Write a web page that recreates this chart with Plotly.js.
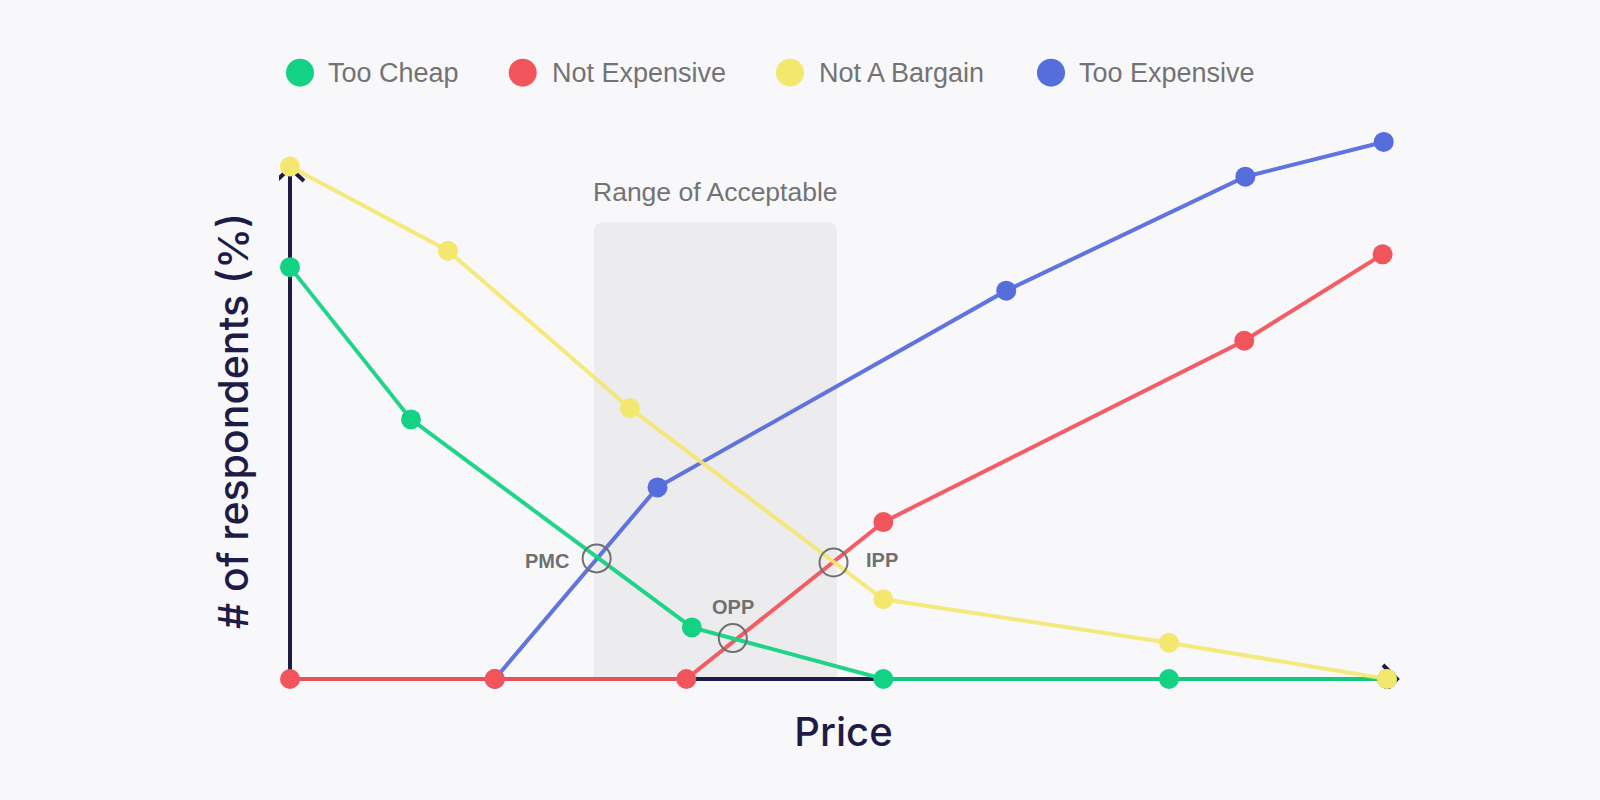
<!DOCTYPE html>
<html>
<head>
<meta charset="utf-8">
<script src="https://cdn.plot.ly/plotly-3.0.1.min.js"></script>
<style>
  html, body { margin: 0; padding: 0; background: #f8f8fa; }
  #chart { width: 1600px; height: 800px; }
</style>
</head>
<body>
<div id="chart"></div>
<script>
// ---- data ----
const seriesNames = ['Too Cheap', 'Not Expensive', 'Not A Bargain', 'Too Expensive'];

const priceTooCheap = [0, 10.93, 36.3, 53.6, 79.4, 99.1];
const tooCheap = [80.6, 50.8, 10.1, 0, 0, 0];

const priceNotExpensive = [0, 18.5, 35.8, 53.6, 86.2, 98.7];
const notExpensive = [0, 0, 0, 30.7, 66.2, 83.1];

const priceNotABargain = [0, 14.27, 30.7, 53.6, 79.4, 99.1];
const notABargain = [100.3, 83.8, 53.0, 15.6, 7.1, 0];

const priceTooExpensive = [18.5, 33.2, 64.7, 86.3, 98.8];
const tooExpensive = [0, 37.5, 76.0, 98.3, 105.1];

const pointNames = ['PMC', 'OPP', 'IPP'];
const pointPrice = [27.7, 40.0, 49.1];
const pointValue = [23.6, 8.0, 22.8];

const acceptableLabel = 'Range of Acceptable';
const acceptableRange = [27.45, 49.4];
const acceptableTop = 89.4;

const xTitle = 'Price';
const yTitle = '# of respondents (%)';

// ---- styles ----
const colors = ['#14d283', '#f2545b', '#f4e76e', '#566ddc'];
const lineColors = ['rgba(20,210,131,0.95)', 'rgba(242,84,91,0.95)', 'rgba(244,231,110,0.9)', 'rgba(86,109,220,0.95)'];
const navy = '#1e1c47';
const grey = '#707070';
const textFont = 'Liberation Sans, Arial, Helvetica, sans-serif';
const titleFont = 'Inter, Lato, sans-serif';

// legend layout positions (pixels on the helper axis)
const legendMarkerX = [300, 522.7, 790, 1051];
const legendTextX = [326, 550, 817, 1077];
const legendY = 72.7;
const yTitlePx = [233, 421];

function seriesTrace(i, xs, ys) {
  return {
    type: 'scatter', mode: 'lines+markers', name: seriesNames[i],
    x: xs, y: ys, xaxis: 'x', yaxis: 'y',
    line: { color: lineColors[i], width: 4 },
    marker: { color: colors[i], size: 20, line: { width: 0 } },
    cliponaxis: false, showlegend: false, hoverinfo: 'skip'
  };
}

const traces = [
  seriesTrace(3, priceTooExpensive, tooExpensive),
  seriesTrace(1, priceNotExpensive, notExpensive),
  seriesTrace(0, priceTooCheap, tooCheap),
  seriesTrace(2, priceNotABargain, notABargain),
  {
    type: 'scatter', mode: 'markers', x: pointPrice, y: pointValue,
    xaxis: 'x', yaxis: 'y',
    marker: { symbol: 'circle-open', size: 28, color: grey, line: { width: 2, color: grey } },
    cliponaxis: false, showlegend: false, hoverinfo: 'skip'
  },
  {
    type: 'scatter', mode: 'markers', x: legendMarkerX, y: legendMarkerX.map(() => legendY),
    xaxis: 'x2', yaxis: 'y2',
    marker: { color: colors, size: 28, line: { width: 0 } },
    cliponaxis: false, showlegend: false, hoverinfo: 'skip'
  }
];

const rx = 0.9, ry = 1.96;
const a0 = acceptableRange[0], a1 = acceptableRange[1], aTop = acceptableTop;
const rectPath = `M ${a0},0 L ${a0},${aTop - ry} Q ${a0},${aTop} ${a0 + rx},${aTop} ` +
  `L ${a1 - rx},${aTop} Q ${a1},${aTop} ${a1},${aTop - ry} L ${a1},0 Z`;

const shapes = [
  { type: 'path', xref: 'x', yref: 'y', path: rectPath, fillcolor: '#ececee', line: { width: 0 }, layer: 'below' },
  { type: 'line', xref: 'x', yref: 'y', x0: 0, x1: 0, y0: 0, y1: 100, line: { color: navy, width: 4 }, layer: 'below' },
  { type: 'line', xref: 'x', yref: 'y', x0: 0, x1: 100, y0: 0, y1: 0, line: { color: navy, width: 4 }, layer: 'below' },
  { type: 'path', xref: 'x', yref: 'y', xsizemode: 'pixel', ysizemode: 'pixel', xanchor: 0, yanchor: 100,
    path: 'M -14,-13 L 0,0 L 14,-13', line: { color: navy, width: 4 }, layer: 'below' },
  { type: 'path', xref: 'x', yref: 'y', xsizemode: 'pixel', ysizemode: 'pixel', xanchor: 100, yanchor: 0,
    path: 'M -14,14 L 0,0 L -14,-14', line: { color: navy, width: 4 }, layer: 'below' }
];

// plot geometry: x=0 at 290px, y=0 at 679px; 11.07 px per price unit, 5.11 px per value unit
const plotL = 279, plotR = 1408, plotB = 689, valTopPx = 120;
const yDomTop = (plotB - valTopPx) / plotB;

const labelShift = [[-50, -3], [0, 31], [48, 2]];
const annotations = pointNames.map((t, i) => ({
  text: t, x: pointPrice[i], y: pointValue[i], xref: 'x', yref: 'y',
  xanchor: 'center', yanchor: 'middle', xshift: labelShift[i][0], yshift: labelShift[i][1],
  showarrow: false, font: { family: textFont, size: 20, color: grey, weight: 700 }
}));
annotations.push({
  text: acceptableLabel, x: (a0 + a1) / 2, y: aTop, xref: 'x', yref: 'y',
  xanchor: 'center', yanchor: 'middle', yshift: 30, showarrow: false,
  font: { family: textFont, size: 26.5, color: '#737373' }
});
seriesNames.forEach((n, i) => annotations.push({
  text: n, x: legendTextX[i], y: legendY, xref: 'x2', yref: 'y2',
  xanchor: 'left', yanchor: 'middle', showarrow: false,
  font: { family: textFont, size: 27, color: '#737373' }
}));
annotations.push({
  text: yTitle,
  x: (yTitlePx[0] - plotL) / (plotR - plotL), y: (plotB - yTitlePx[1]) / plotB,
  xref: 'paper', yref: 'paper',
  xanchor: 'center', yanchor: 'middle', textangle: -90, showarrow: false,
  font: { family: titleFont, size: 41, color: navy, weight: 500 }
});

const layout = {
  width: 1600, height: 800,
  paper_bgcolor: '#f8f8fa', plot_bgcolor: 'rgba(0,0,0,0)',
  margin: { l: plotL, r: 1600 - plotR, t: 0, b: 800 - plotB },
  showlegend: false, hovermode: false,
  xaxis: {
    domain: [0, 1], range: [-(290 - plotL) / 11.07, (plotR - 290) / 11.07],
    showgrid: false, zeroline: false, showline: false,
    showticklabels: false, ticks: '', fixedrange: true,
    title: { text: xTitle, standoff: 28, font: { family: titleFont, size: 40, color: navy, weight: 500 } }
  },
  yaxis: {
    domain: [0, yDomTop], range: [-(plotB - 679) / 5.11, (679 - valTopPx) / 5.11],
    showgrid: false, zeroline: false, showline: false,
    showticklabels: false, ticks: '', fixedrange: true
  },
  xaxis2: { domain: [0, 1], range: [plotL, plotR], visible: false, anchor: 'y2', fixedrange: true },
  yaxis2: { domain: [yDomTop, 1], range: [valTopPx, 0], visible: false, anchor: 'x2', fixedrange: true },
  shapes: shapes,
  annotations: annotations
};

Plotly.newPlot('chart', traces, layout, { staticPlot: true, displayModeBar: false });
</script>
</body>
</html>
